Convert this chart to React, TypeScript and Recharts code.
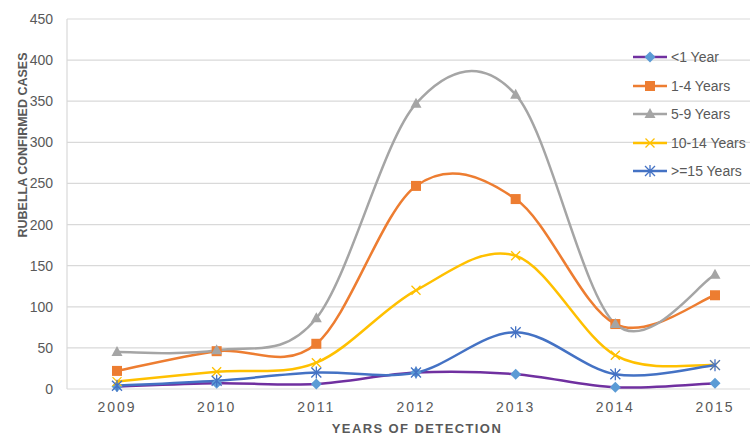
import React from "react";
import { CartesianGrid, Line, LineChart, XAxis, YAxis } from "recharts";

const years = ["2009", "2010", "2011", "2012", "2013", "2014", "2015"];
const under1 = [3, 7, 6, 20, 18, 2, 7];
const age1to4 = [22, 46, 55, 247, 231, 79, 114];
const age5to9 = [45, 47, 86, 347, 358, 79, 139];
const age10to14 = [9, 21, 32, 120, 162, 41, 29];
const age15plus = [4, 10, 20, 20, 69, 18, 29];
const yTicks = [0, 50, 100, 150, 200, 250, 300, 350, 400, 450];

const FONT = '"Liberation Sans", Arial, sans-serif';
const TEXT = "#595959";

type Shape = "diamond" | "square" | "triangle" | "x" | "star";

const SERIES: { key: string; name: string; line: string; fill: string; shape: Shape }[] = [
  { key: "u1", name: "<1 Year", line: "#7030A0", fill: "#5B9BD5", shape: "diamond" },
  { key: "a14", name: "1-4 Years", line: "#ED7D31", fill: "#ED7D31", shape: "square" },
  { key: "a59", name: "5-9 Years", line: "#A5A5A5", fill: "#A5A5A5", shape: "triangle" },
  { key: "a1014", name: "10-14 Years", line: "#FFC000", fill: "#FFC000", shape: "x" },
  { key: "a15", name: ">=15 Years", line: "#4472C4", fill: "#4472C4", shape: "star" },
];

const data = years.map((year, i) => ({
  year,
  u1: under1[i],
  a14: age1to4[i],
  a59: age5to9[i],
  a1014: age10to14[i],
  a15: age15plus[i],
}));

// Excel-style smoothed line (Catmull-Rom, 1/6 control handles)
const excelSmooth: any = (context: any) => {
  let pts: number[][] = [];
  return {
    areaStart() {},
    areaEnd() {},
    lineStart() {
      pts = [];
    },
    point(x: number, y: number) {
      pts.push([+x, +y]);
    },
    lineEnd() {
      if (!pts.length) return;
      context.moveTo(pts[0][0], pts[0][1]);
      for (let i = 0; i < pts.length - 1; i++) {
        const p0 = pts[i - 1] || pts[i];
        const p1 = pts[i];
        const p2 = pts[i + 1];
        const p3 = pts[i + 2] || p2;
        context.bezierCurveTo(
          p1[0] + (p2[0] - p0[0]) / 6,
          p1[1] + (p2[1] - p0[1]) / 6,
          p2[0] - (p3[0] - p1[0]) / 6,
          p2[1] - (p3[1] - p1[1]) / 6,
          p2[0],
          p2[1]
        );
      }
    },
  };
};

function Marker({ shape, cx, cy, color }: { shape: Shape; cx: number; cy: number; color: string }) {
  if (shape === "diamond") {
    const r = 5.5;
    return (
      <path
        d={`M${cx},${cy - r}L${cx + r},${cy}L${cx},${cy + r}L${cx - r},${cy}Z`}
        fill={color}
      />
    );
  }
  if (shape === "square") {
    return <rect x={cx - 5} y={cy - 5} width={10} height={10} fill={color} />;
  }
  if (shape === "triangle") {
    return (
      <path d={`M${cx},${cy - 6}L${cx + 5.5},${cy + 4}L${cx - 5.5},${cy + 4}Z`} fill={color} />
    );
  }
  if (shape === "x") {
    const r = 4.5;
    return (
      <path
        d={`M${cx - r},${cy - r}L${cx + r},${cy + r}M${cx + r},${cy - r}L${cx - r},${cy + r}`}
        stroke={color}
        strokeWidth={1.3}
        fill="none"
      />
    );
  }
  const r = 5;
  return (
    <path
      d={`M${cx - r},${cy - r}L${cx + r},${cy + r}M${cx + r},${cy - r}L${cx - r},${cy + r}M${cx},${cy - r - 1}L${cx},${cy + r + 1}`}
      stroke={color}
      strokeWidth={1.3}
      fill="none"
    />
  );
}

function LegendBox() {
  return (
    <div
      style={{
        position: "absolute",
        left: 633,
        top: 43,
        fontFamily: FONT,
        fontSize: 14,
        color: TEXT,
        whiteSpace: "nowrap",
      }}
    >
      {SERIES.map((s) => (
        <div key={s.key} style={{ display: "flex", alignItems: "center", height: 28.5 }}>
          <svg width={38} height={14} style={{ display: "block" }}>
            <line x1={0} y1={7} x2={34} y2={7} stroke={s.line} strokeWidth={2.5} />
            <Marker shape={s.shape} cx={17} cy={7} color={s.fill} />
          </svg>
          <span>{s.name}</span>
        </div>
      ))}
    </div>
  );
}

export default function App() {
  return (
    <div style={{ position: "absolute", left: 0, top: 0, width: 753, height: 435, background: "#fff" }}>
      <LineChart
        width={753}
        height={435}
        data={data}
        margin={{ top: 19, right: 3, bottom: 0, left: 0 }}
      >
        <CartesianGrid vertical={false} stroke="#D9D9D9" strokeWidth={1.2} />
        <XAxis
          dataKey="year"
          height={46}
          padding={{ left: 50, right: 35 }}
          axisLine={false}
          tickLine={false}
          tickSize={0}
          tickMargin={13}
          tick={{ fontSize: 14, fill: TEXT, fontFamily: FONT, letterSpacing: 2 } as any}
          label={{
            content: () => (
              <text
                x={417}
                y={433}
                textAnchor="middle"
                fontFamily={FONT}
                fontSize={13}
                fontWeight="bold"
                letterSpacing={1.4}
                fill={TEXT}
              >
                YEARS OF DETECTION
              </text>
            ),
          }}
        />
        <YAxis
          width={67}
          domain={[0, 450]}
          ticks={yTicks}
          interval={0}
          axisLine={{ stroke: "#D9D9D9", strokeWidth: 1.2 }}
          tickLine={false}
          tickSize={0}
          tickMargin={14}
          tick={{ fontSize: 14, fill: TEXT, fontFamily: FONT }}
          label={{
            content: () => (
              <text
                x={22.5}
                y={145}
                transform="rotate(-90 22.5 145)"
                textAnchor="middle"
                dominantBaseline="central"
                fontFamily={FONT}
                fontSize={12.5}
                fontWeight="bold"
                fill={TEXT}
              >
                RUBELLA CONFIRMED CASES
              </text>
            ),
          }}
        />
        {SERIES.map((s) => (
          <Line
            key={s.key}
            dataKey={s.key}
            name={s.name}
            type={excelSmooth}
            stroke={s.line}
            strokeWidth={2.5}
            isAnimationActive={false}
            activeDot={false}
            dot={(p: any) => (
              <Marker key={`${s.key}-${p.index}`} shape={s.shape} cx={p.cx} cy={p.cy} color={s.fill} />
            )}
          />
        ))}
      </LineChart>
      <LegendBox />
    </div>
  );
}
